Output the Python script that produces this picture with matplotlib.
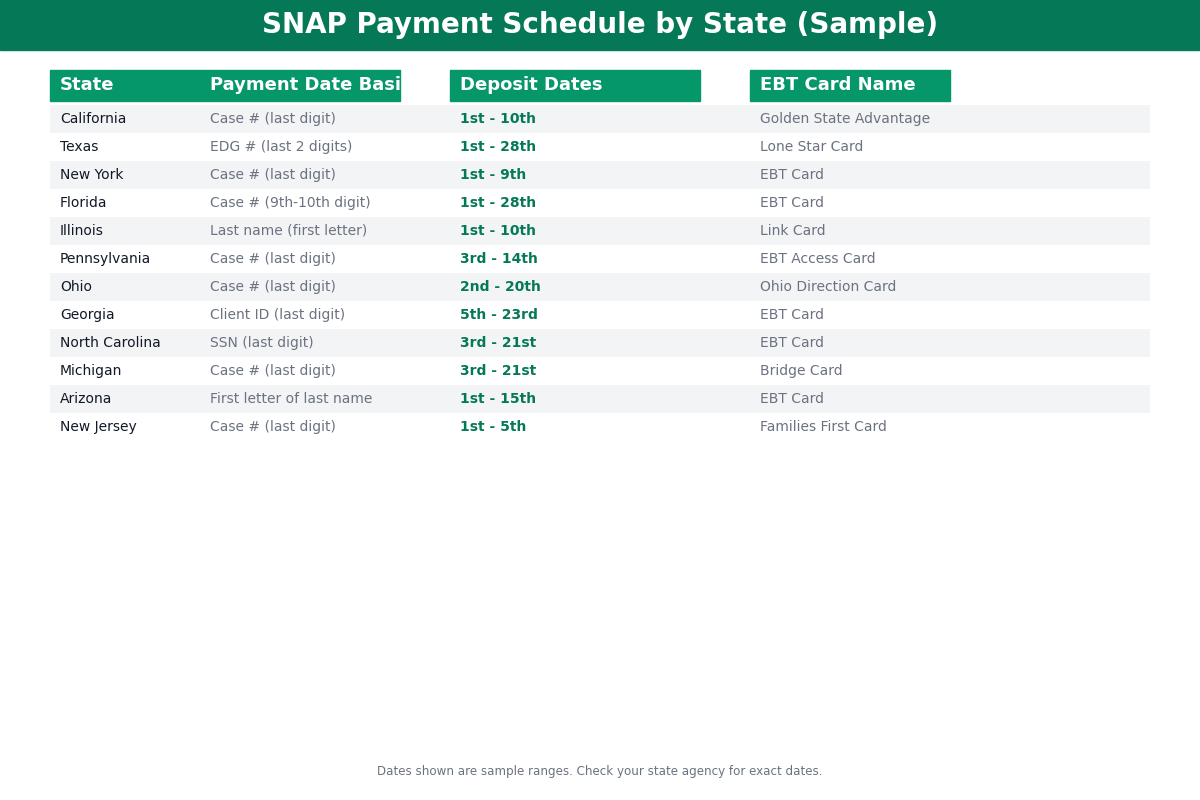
import matplotlib
matplotlib.use("Agg")
import matplotlib.pyplot as plt
from matplotlib.patches import Rectangle

title = "SNAP Payment Schedule by State (Sample)"
headers = ["State", "Payment Date Basis", "Deposit Dates", "EBT Card Name"]
states = ["California", "Texas", "New York", "Florida", "Illinois", "Pennsylvania", "Ohio",
          "Georgia", "North Carolina", "Michigan", "Arizona", "New Jersey"]
basis = ["Case # (last digit)", "EDG # (last 2 digits)", "Case # (last digit)", "Case # (9th-10th digit)",
         "Last name (first letter)", "Case # (last digit)", "Case # (last digit)", "Client ID (last digit)",
         "SSN (last digit)", "Case # (last digit)", "First letter of last name", "Case # (last digit)"]
dates = ["1st - 10th", "1st - 28th", "1st - 9th", "1st - 28th", "1st - 10th", "3rd - 14th", "2nd - 20th",
         "5th - 23rd", "3rd - 21st", "3rd - 21st", "1st - 15th", "1st - 5th"]
cards = ["Golden State Advantage", "Lone Star Card", "EBT Card", "EBT Card", "Link Card", "EBT Access Card",
         "Ohio Direction Card", "EBT Card", "EBT Card", "Bridge Card", "EBT Card", "Families First Card"]
footer = "Dates shown are sample ranges. Check your state agency for exact dates."

fig = plt.figure(figsize=(12, 8), dpi=100)
ax = fig.add_axes([0, 0, 1, 1])
ax.set_xlim(0, 1200); ax.set_ylim(800, 0); ax.axis("off")

ax.add_patch(Rectangle((0, 0), 1200, 50, color="#047857"))
ax.text(600, 25, title, ha="center", va="center", color="white", fontsize=20, fontweight="bold")

hdr_col = "#059669"
hx = [(50, 350), (450, 250), (750, 200)]
for x, w in hx:
    ax.add_patch(Rectangle((x, 70), w, 31, color=hdr_col))
clip = Rectangle((50, 70), 350, 31, transform=ax.transData, visible=False)
ax.add_patch(clip)
colx = [60, 210, 460, 760]
for i, h in enumerate(headers):
    t = ax.text(colx[i], 85.5, h, ha="left", va="center", color="white", fontsize=13, fontweight="bold")
    if i == 1:
        t.set_clip_path(clip)

for r in range(len(states)):
    y = 105 + 28 * r
    if r % 2 == 0:
        ax.add_patch(Rectangle((50, y), 1100, 28, color="#F3F4F6", lw=0))
    yc = y + 14
    ax.text(colx[0], yc, states[r], va="center", fontsize=10, color="#111827")
    ax.text(colx[1], yc, basis[r], va="center", fontsize=10, color="#6B7280")
    ax.text(colx[2], yc, dates[r], va="center", fontsize=10, color="#047857", fontweight="bold")
    ax.text(colx[3], yc, cards[r], va="center", fontsize=10, color="#6B7280")

ax.text(600, 771, footer, ha="center", va="center", fontsize=8.6, color="#6B7280")
fig.savefig("out.png", dpi=100)
